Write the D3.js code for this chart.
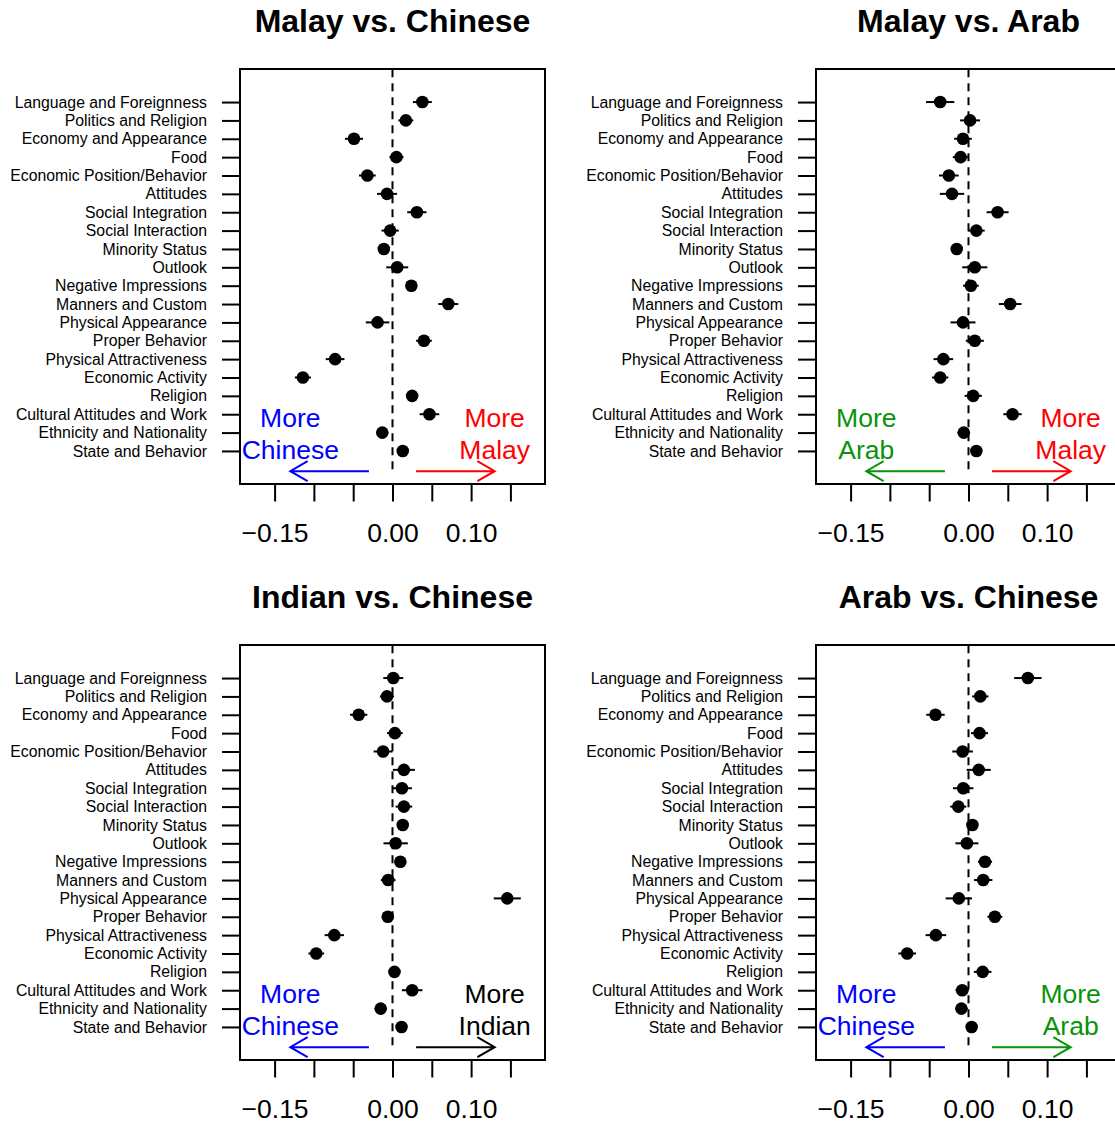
<!DOCTYPE html>
<html>
<head>
<meta charset="utf-8">
<script src="https://cdn.jsdelivr.net/npm/d3@7"></script>
<style>
  body { margin: 0; background: #fff; }
  svg { display: block; font-family: "Liberation Sans", Arial, Helvetica, sans-serif; }
</style>
</head>
<body>
<div id="chart"></div>
<script>
// categories, top to bottom
var categories = ["Language and Foreignness", "Politics and Religion", "Economy and Appearance",
  "Food", "Economic Position/Behavior", "Attitudes", "Social Integration", "Social Interaction",
  "Minority Status", "Outlook", "Negative Impressions", "Manners and Custom", "Physical Appearance",
  "Proper Behavior", "Physical Attractiveness", "Economic Activity", "Religion",
  "Cultural Attitudes and Work", "Ethnicity and Nationality", "State and Behavior"];

var titles = ["Malay vs. Chinese", "Malay vs. Arab", "Indian vs. Chinese", "Arab vs. Chinese"];
var leftGroups = ["Chinese", "Arab", "Chinese", "Chinese"];
var rightGroups = ["Malay", "Malay", "Indian", "Arab"];

var xTicks = [-0.15, -0.10, -0.05, 0, 0.05, 0.10, 0.15];
var xTickLabels = ["\u22120.15", "", "", "0.00", "", "0.10", ""];

// estimates and half-widths of intervals
var malayChinese = [0.038, 0.017, -0.049, 0.005, -0.032, -0.007, 0.031, -0.003, -0.011, 0.006,
  0.024, 0.071, -0.019, 0.040, -0.073, -0.114, 0.025, 0.047, -0.013, 0.013];
var malayChineseErr = [0.012, 0.0095, 0.0115, 0.009, 0.0106, 0.0127, 0.0123, 0.011, 0.006, 0.014,
  0.006, 0.0127, 0.015, 0.010, 0.0119, 0.0102, 0.0076, 0.0125, 0.0076, 0.006];

var malayArab = [-0.036, 0.002, -0.007, -0.010, -0.025, -0.021, 0.037, 0.010, -0.015, 0.008,
  0.003, 0.053, -0.007, 0.008, -0.032, -0.036, 0.006, 0.056, -0.006, 0.010];
var malayArabErr = [0.018, 0.0127, 0.0112, 0.010, 0.0125, 0.0155, 0.014, 0.0106, 0.006, 0.016,
  0.010, 0.0144, 0.0159, 0.0115, 0.0125, 0.0104, 0.011, 0.0117, 0.008, 0.006];

var indianChinese = [0.001, -0.007, -0.043, 0.003, -0.012, 0.0145, 0.012, 0.0145, 0.013, 0.004,
  0.010, -0.0055, 0.146, -0.006, -0.074, -0.097, 0.0025, 0.025, -0.015, 0.0115];
var indianChineseErr = [0.0127, 0.009, 0.011, 0.010, 0.012, 0.014, 0.0127, 0.0106, 0.006, 0.0155,
  0.007, 0.0093, 0.0172, 0.0076, 0.0123, 0.010, 0.0076, 0.0131, 0.0076, 0.006];

var arabChinese = [0.0755, 0.015, -0.042, 0.014, -0.0075, 0.013, -0.0067, -0.013, 0.005, -0.002,
  0.021, 0.0187, -0.0123, 0.0335, -0.0415, -0.078, 0.018, -0.008, -0.009, 0.004];
var arabChineseErr = [0.0174, 0.0104, 0.0117, 0.0108, 0.0131, 0.0153, 0.013, 0.0102, 0.007, 0.0146,
  0.009, 0.0117, 0.0168, 0.0095, 0.0131, 0.0112, 0.0112, 0.0085, 0.008, 0.006];

var estimates = [malayChinese, malayArab, indianChinese, arabChinese];
var errors = [malayChineseErr, malayArabErr, indianChineseErr, arabChineseErr];

var groupColor = { Chinese: "#0000ff", Malay: "#ff0000", Arab: "#0a920a", Indian: "#000000" };

var W = 1115, H = 1125;
var svg = d3.select("#chart").append("svg")
  .attr("width", W)
  .attr("height", H);

svg.append("defs").append("clipPath").attr("id", "boxclip")
  .append("rect").attr("x", 240).attr("y", 69).attr("width", 305).attr("height", 415);

// one panel per comparison, 2 x 2
titles.forEach(function(title, p) {
  var offX = (p % 2) * 576, offY = Math.floor(p / 2) * 576;
  drawPanel(p, offX, offY);
});

function drawPanel(p, offX, offY) {
  var left = 240, right = 545, top = 69, bottom = 484;

  var x = d3.scaleLinear().domain([-0.194, 0.194]).range([left, right]);
  var y = d3.scaleLinear().domain([-0.8, 21.8]).range([bottom, top]);

  var rows = categories.map(function(c, i) {
    return { name: c, pos: 20 - i, est: estimates[p][i], err: errors[p][i] };
  });

  var g = svg.append("g").attr("transform", "translate(" + offX + "," + offY + ")");

  // title
  g.append("text")
    .attr("x", (left + right) / 2)
    .attr("y", 32)
    .attr("text-anchor", "middle")
    .style("font-size", "32px")
    .style("font-weight", "bold")
    .text(titles[p]);

  // axes
  var xAxis = d3.axisBottom(x)
    .tickValues(xTicks)
    .tickSize(17.5)
    .tickPadding(22)
    .tickFormat(function(d, i) { return xTickLabels[i]; });

  var gx = g.append("g")
    .attr("transform", "translate(0," + bottom + ")")
    .call(xAxis);
  gx.select(".domain").remove();
  gx.selectAll("line").attr("stroke", "#000").attr("stroke-width", 2);
  gx.selectAll("text").style("font-size", "26.5px").attr("fill", "#000");

  var yAxis = d3.axisLeft(y)
    .tickValues(rows.map(function(d) { return d.pos; }))
    .tickSize(18)
    .tickPadding(15)
    .tickFormat(function(d) { return categories[20 - d]; });

  var gy = g.append("g")
    .attr("transform", "translate(" + left + ",0)")
    .call(yAxis);
  gy.select(".domain").remove();
  gy.selectAll("line").attr("stroke", "#000").attr("stroke-width", 2);
  gy.selectAll("text").style("font-size", "15.8px").attr("fill", "#000");

  // box
  g.append("rect")
    .attr("x", left).attr("y", top)
    .attr("width", right - left).attr("height", bottom - top)
    .attr("fill", "none")
    .attr("stroke", "#000")
    .attr("stroke-width", 2);

  var inner = g.append("g").attr("clip-path", "url(#boxclip)");

  // zero reference line
  inner.append("line")
    .attr("x1", x(0)).attr("x2", x(0))
    .attr("y1", y(0)).attr("y2", top)
    .attr("stroke", "#000")
    .attr("stroke-width", 2)
    .attr("stroke-dasharray", "8,6");

  // direction labels and arrows
  var lc = groupColor[leftGroups[p]], rc = groupColor[rightGroups[p]];
  [[-0.13, leftGroups[p], lc, -0.03], [0.13, rightGroups[p], rc, 0.03]].forEach(function(s) {
    var t = inner.append("text")
      .attr("text-anchor", "middle")
      .attr("fill", s[2])
      .style("font-size", "26.5px");
    t.append("tspan").attr("x", x(s[0])).attr("y", y(2.3)).text("More");
    t.append("tspan").attr("x", x(s[0])).attr("y", y(0.56)).text(s[1]);

    var x0 = x(s[3]), x1 = x(s[0]), ya = y(-0.1);
    var dir = x1 > x0 ? -1 : 1;
    var hl = 20, ang = Math.PI / 6;
    var path = d3.path();
    path.moveTo(x0, ya); path.lineTo(x1, ya);
    path.moveTo(x1 + dir * hl * Math.cos(ang), ya - hl * Math.sin(ang));
    path.lineTo(x1, ya);
    path.lineTo(x1 + dir * hl * Math.cos(ang), ya + hl * Math.sin(ang));
    inner.append("path")
      .attr("d", path.toString())
      .attr("fill", "none")
      .attr("stroke", s[2])
      .attr("stroke-width", 2);
  });

  // intervals
  inner.selectAll(".err")
    .data(rows)
    .enter()
    .append("line")
    .attr("class", "err")
    .attr("x1", function(d) { return x(d.est - d.err); })
    .attr("x2", function(d) { return x(d.est + d.err); })
    .attr("y1", function(d) { return y(d.pos); })
    .attr("y2", function(d) { return y(d.pos); })
    .attr("stroke", "#000")
    .attr("stroke-width", 2);

  // point estimates
  inner.selectAll(".dot")
    .data(rows)
    .enter()
    .append("circle")
    .attr("class", "dot")
    .attr("cx", function(d) { return x(d.est); })
    .attr("cy", function(d) { return y(d.pos); })
    .attr("r", 6.3)
    .style("fill", "#000");
}
</script>
</body>
</html>
